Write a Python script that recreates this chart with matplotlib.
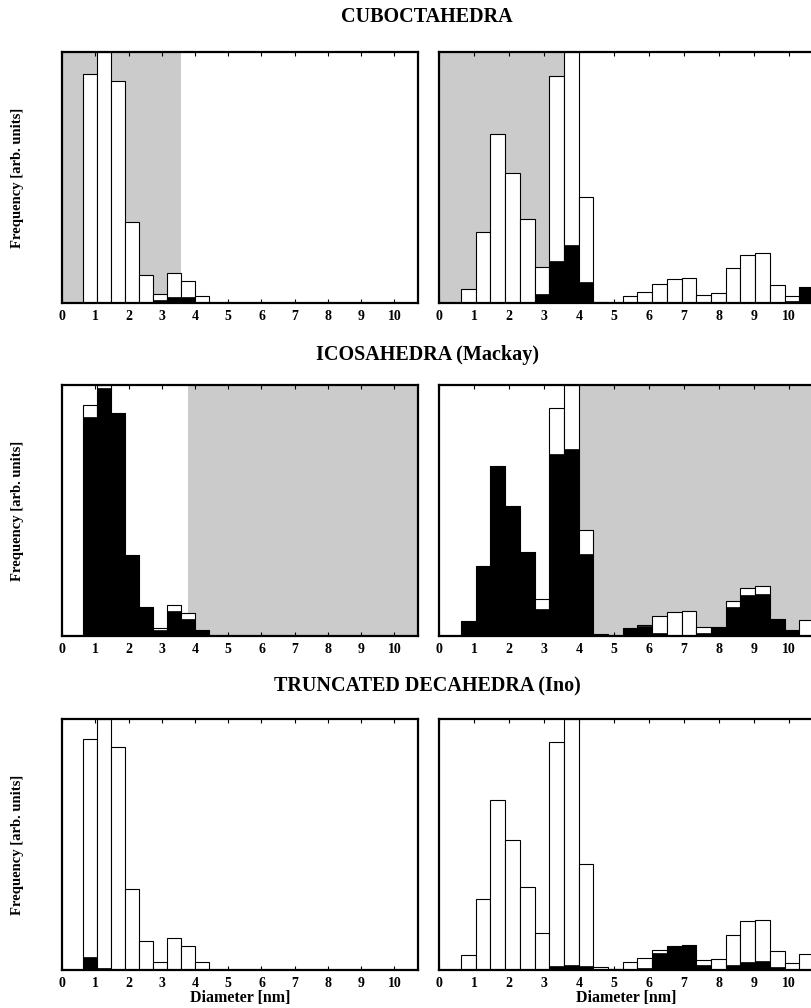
import matplotlib
matplotlib.use("Agg")
import matplotlib.pyplot as plt

plt.rcParams['font.family'] = ['Liberation Serif', 'DejaVu Serif']
plt.rcParams['font.weight'] = 'bold'

# bin centres (nm), bin width 0.42 nm
diam = [0.84, 1.26, 1.68, 2.10, 2.52, 2.94, 3.36, 3.78, 4.20, 4.62, 5.04, 5.46,
        5.88, 6.30, 6.72, 7.14, 7.56, 7.98, 8.40, 8.82, 9.24, 9.66, 10.08, 10.50]
width = 0.42

# total frequency (outline) and black fraction, small clusters
cubo_small_tot = [0.913, 1.0, 0.883, 0.323, 0.113, 0.034, 0.12, 0.089, 0.027]
cubo_small_blk = [0, 0, 0, 0, 0, 0.010, 0.025, 0.025, 0]
ico_small_tot = [0.921, 1.0, 0.89, 0.321, 0.114, 0.031, 0.123, 0.091, 0.023]
ico_small_blk = [0.873, 0.988, 0.89, 0.321, 0.114, 0.024, 0.098, 0.067, 0.023]
dec_small_tot = [0.92, 1.0, 0.89, 0.323, 0.117, 0.031, 0.127, 0.094, 0.031]
dec_small_blk = [0.053, 0.008, 0, 0, 0, 0, 0, 0, 0]

# larger size range
cubo_big_tot = [0.057, 0.283, 0.673, 0.517, 0.333, 0.144, 0.904, 1.0, 0.423, 0.005, 0.002, 0.029,
                0.044, 0.076, 0.096, 0.100, 0.033, 0.039, 0.140, 0.190, 0.199, 0.072, 0.028, 0.063]
cubo_big_blk = [0, 0, 0, 0, 0, 0.036, 0.169, 0.233, 0.084, 0.002, 0, 0,
                0, 0, 0, 0, 0, 0.005, 0, 0, 0, 0, 0.009, 0.063]
ico_big_tot = [0.06, 0.28, 0.677, 0.52, 0.335, 0.148, 0.909, 1.0, 0.423, 0.007, 0.002, 0.031,
               0.044, 0.079, 0.096, 0.100, 0.037, 0.036, 0.139, 0.193, 0.200, 0.067, 0.023, 0.063]
ico_big_blk = [0.06, 0.28, 0.677, 0.52, 0.335, 0.108, 0.727, 0.747, 0.327, 0.005, 0, 0.031,
               0.039, 0.013, 0, 0, 0.013, 0.036, 0.117, 0.163, 0.169, 0.067, 0.023, 0.005]
dec_big_tot = [0.058, 0.282, 0.676, 0.516, 0.332, 0.147, 0.907, 1.0, 0.423, 0.011, 0.005, 0.032,
               0.046, 0.078, 0.097, 0.100, 0.038, 0.042, 0.140, 0.194, 0.200, 0.074, 0.028, 0.065]
dec_big_blk = [0, 0, 0, 0, 0, 0, 0.017, 0.021, 0.016, 0.005, 0.003, 0,
               0.008, 0.066, 0.094, 0.100, 0.021, 0, 0.021, 0.032, 0.034, 0.012, 0, 0]

titles = ["CUBOCTAHEDRA", "ICOSAHEDRA (Mackay)", "TRUNCATED DECAHEDRA (Ino)"]
# shaded diameter ranges (left panel, right panel) per row
shade = [((0, 3.57), (0, 3.57)), ((3.78, 10.71), (3.99, 10.71)), (None, None)]

fig = plt.figure(figsize=(8.12, 10.08), dpi=100)

rows_y = [0.6994, 0.369, 0.0377]
row_h = 0.249
data = [((cubo_small_tot, cubo_small_blk), (cubo_big_tot, cubo_big_blk)),
        ((ico_small_tot, ico_small_blk), (ico_big_tot, ico_big_blk)),
        ((dec_small_tot, dec_small_blk), (dec_big_tot, dec_big_blk))]
title_y = [0.983, 0.648, 0.3185]

for r in range(3):
    ax_l = fig.add_axes([0.0764, rows_y[r], 0.4384, row_h])
    ax_r = fig.add_axes([0.5406, rows_y[r], 0.4618, row_h])
    for ax, (tot, blk), sh in zip([ax_l, ax_r], data[r], shade[r]):
        if sh is not None:
            ax.axvspan(sh[0], sh[1], facecolor='#cbcbcb', edgecolor='none', zorder=0)
        x = diam[:len(tot)]
        ax.bar(x, tot, width=width, color='white', edgecolor='black', linewidth=0.8, zorder=2)
        ax.bar(x, blk, width=width, color='black', edgecolor='black', linewidth=0.5, zorder=3)
        ax.set_xlim(0, 10.71)
        ax.set_ylim(0, 1.0)
        ax.set_xticks(range(11))
        ax.set_yticks([])
        ax.tick_params(axis='x', direction='in', length=3, width=0.8, pad=5,
                       labelsize=10, top=True)
        for lab in ax.get_xticklabels():
            lab.set_fontweight('bold')
        for s in ax.spines.values():
            s.set_linewidth(1.6)
        if r == 2:
            ax.set_xlabel("Diameter [nm]", fontsize=11.5, fontweight='bold', labelpad=0)
    fig.text(0.526, title_y[r], titles[r], ha='center', va='center',
             fontsize=14.5, fontweight='bold')
    fig.text(0.022, rows_y[r] + row_h / 2, "Frequency [arb. units]", rotation=90,
             ha='center', va='center', fontsize=10.5, fontweight='bold')

fig.savefig("out.png", dpi=100)
